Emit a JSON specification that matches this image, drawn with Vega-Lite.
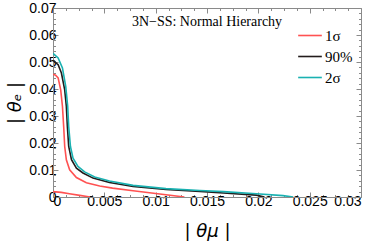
{
  "$schema": "https://vega.github.io/schema/vega-lite/v6.json",
  "width": 308,
  "height": 189,
  "autosize": {"type": "none"},
  "padding": {"left": 53, "top": 8, "right": 13, "bottom": 45},
  "background": "white",
  "config": {
    "view": {"stroke": null},
    "axis": {
      "grid": false,
      "domainColor": "#8a8a8a",
      "domainWidth": 1,
      "tickColor": "#8a8a8a",
      "tickWidth": 1,
      "labelFont": "Liberation Sans",
      "labelFontSize": 14,
      "labelColor": "#000000",
      "labelOverlap": false,
      "titleFont": "DejaVu Sans",
      "titleFontSize": 18,
      "titleFontWeight": "normal",
      "titleFontStyle": "italic",
      "titleColor": "#000000"
    }
  },
  "title": {
    "text": "3N−SS:  Normal Hierarchy",
    "font": "Liberation Serif",
    "fontSize": 14,
    "fontWeight": "normal",
    "color": "#000000",
    "anchor": "middle",
    "baseline": "alphabetic",
    "offset": 0,
    "dy": 39
  },
  "data": {
    "values": [
      {"s": "1σ", "b": "a", "i": 0, "x": 0, "y": 0.0455},
      {"s": "1σ", "b": "a", "i": 1, "x": 0.00025, "y": 0.0451},
      {"s": "1σ", "b": "a", "i": 2, "x": 0.0005, "y": 0.0441},
      {"s": "1σ", "b": "a", "i": 3, "x": 0.00075, "y": 0.0397},
      {"s": "1σ", "b": "a", "i": 4, "x": 0.00092, "y": 0.0336},
      {"s": "1σ", "b": "a", "i": 5, "x": 0.00104, "y": 0.0261},
      {"s": "1σ", "b": "a", "i": 6, "x": 0.00114, "y": 0.0187},
      {"s": "1σ", "b": "a", "i": 7, "x": 0.0013, "y": 0.0138},
      {"s": "1σ", "b": "a", "i": 8, "x": 0.00162, "y": 0.0101},
      {"s": "1σ", "b": "a", "i": 9, "x": 0.00228, "y": 0.0072},
      {"s": "1σ", "b": "a", "i": 10, "x": 0.00325, "y": 0.0053},
      {"s": "1σ", "b": "a", "i": 11, "x": 0.00455, "y": 0.0041},
      {"s": "1σ", "b": "a", "i": 12, "x": 0.0058, "y": 0.0033},
      {"s": "1σ", "b": "a", "i": 13, "x": 0.0078, "y": 0.0023},
      {"s": "1σ", "b": "a", "i": 14, "x": 0.0100, "y": 0.0013},
      {"s": "1σ", "b": "a", "i": 15, "x": 0.0128, "y": 0},
      {"s": "1σ", "b": "c", "i": 0, "x": 0, "y": 0.0020},
      {"s": "1σ", "b": "c", "i": 1, "x": 0.0008, "y": 0.0017},
      {"s": "1σ", "b": "c", "i": 2, "x": 0.0016, "y": 0.0012},
      {"s": "1σ", "b": "c", "i": 3, "x": 0.0026, "y": 0.0006},
      {"s": "1σ", "b": "c", "i": 4, "x": 0.0036, "y": 0},
      {"s": "90%", "b": "a", "i": 0, "x": 0, "y": 0.0506},
      {"s": "90%", "b": "a", "i": 1, "x": 0.0005, "y": 0.0490},
      {"s": "90%", "b": "a", "i": 2, "x": 0.00082, "y": 0.0459},
      {"s": "90%", "b": "a", "i": 3, "x": 0.00114, "y": 0.0397},
      {"s": "90%", "b": "a", "i": 4, "x": 0.0013, "y": 0.0336},
      {"s": "90%", "b": "a", "i": 5, "x": 0.0014, "y": 0.0261},
      {"s": "90%", "b": "a", "i": 6, "x": 0.00153, "y": 0.0187},
      {"s": "90%", "b": "a", "i": 7, "x": 0.0018, "y": 0.0138},
      {"s": "90%", "b": "a", "i": 8, "x": 0.00228, "y": 0.0107},
      {"s": "90%", "b": "a", "i": 9, "x": 0.00292, "y": 0.0089},
      {"s": "90%", "b": "a", "i": 10, "x": 0.0039, "y": 0.0070},
      {"s": "90%", "b": "a", "i": 11, "x": 0.0055, "y": 0.0054},
      {"s": "90%", "b": "a", "i": 12, "x": 0.0078, "y": 0.0039},
      {"s": "90%", "b": "a", "i": 13, "x": 0.011, "y": 0.0028},
      {"s": "90%", "b": "a", "i": 14, "x": 0.0143, "y": 0.0021},
      {"s": "90%", "b": "a", "i": 15, "x": 0.0166, "y": 0.0015},
      {"s": "90%", "b": "a", "i": 16, "x": 0.0198, "y": 0.0007},
      {"s": "90%", "b": "a", "i": 17, "x": 0.0206, "y": 0},
      {"s": "2σ", "b": "a", "i": 0, "x": 0, "y": 0.0532},
      {"s": "2σ", "b": "a", "i": 1, "x": 0.0005, "y": 0.0515},
      {"s": "2σ", "b": "a", "i": 2, "x": 0.00092, "y": 0.0478},
      {"s": "2σ", "b": "a", "i": 3, "x": 0.00124, "y": 0.0410},
      {"s": "2σ", "b": "a", "i": 4, "x": 0.00143, "y": 0.0336},
      {"s": "2σ", "b": "a", "i": 5, "x": 0.00153, "y": 0.0261},
      {"s": "2σ", "b": "a", "i": 6, "x": 0.0017, "y": 0.0187},
      {"s": "2σ", "b": "a", "i": 7, "x": 0.00195, "y": 0.0144},
      {"s": "2σ", "b": "a", "i": 8, "x": 0.00243, "y": 0.0113},
      {"s": "2σ", "b": "a", "i": 9, "x": 0.00308, "y": 0.0093},
      {"s": "2σ", "b": "a", "i": 10, "x": 0.00406, "y": 0.0074},
      {"s": "2σ", "b": "a", "i": 11, "x": 0.0055, "y": 0.0059},
      {"s": "2σ", "b": "a", "i": 12, "x": 0.0078, "y": 0.0043},
      {"s": "2σ", "b": "a", "i": 13, "x": 0.011, "y": 0.0031},
      {"s": "2σ", "b": "a", "i": 14, "x": 0.0143, "y": 0.0024},
      {"s": "2σ", "b": "a", "i": 15, "x": 0.0166, "y": 0.0020},
      {"s": "2σ", "b": "a", "i": 16, "x": 0.0198, "y": 0.0012},
      {"s": "2σ", "b": "a", "i": 17, "x": 0.0224, "y": 0.0005},
      {"s": "2σ", "b": "a", "i": 18, "x": 0.0234, "y": 0}
    ]
  },
  "layer": [
    {
      "mark": {"type": "line", "strokeWidth": 1.6, "clip": true},
      "encoding": {
        "x": {
          "field": "x", "type": "quantitative",
          "scale": {"domain": [0, 0.03], "nice": false, "zero": false},
          "axis": {
            "orient": "bottom",
            "title": "| θμ |",
            "titlePadding": 12,
            "values": [0, 0.00125, 0.0025, 0.00375, 0.005, 0.00625, 0.0075, 0.00875, 0.01, 0.01125, 0.0125, 0.01375, 0.015, 0.01625, 0.0175, 0.01875, 0.02, 0.02125, 0.0225, 0.02375, 0.025, 0.02625, 0.0275, 0.02875, 0.03],
            "labelExpr": "abs(datum.value*200 - round(datum.value*200)) < 0.001 ? format(datum.value, '~g') : ''",
            "tickSize": {"condition": {"test": "abs(datum.value*200 - round(datum.value*200)) < 0.001", "value": -5}, "value": -2.5},
            "labelPadding": 2
          }
        },
        "y": {
          "field": "y", "type": "quantitative",
          "scale": {"domain": [0, 0.07], "nice": false, "zero": false},
          "axis": {
            "orient": "left",
            "title": "| θₑ |",
            "titlePadding": 4,
            "values": [0, 0.002, 0.004, 0.006, 0.008, 0.01, 0.012, 0.014, 0.016, 0.018, 0.02, 0.022, 0.024, 0.026, 0.028, 0.03, 0.032, 0.034, 0.036, 0.038, 0.04, 0.042, 0.044, 0.046, 0.048, 0.05, 0.052, 0.054, 0.056, 0.058, 0.06, 0.062, 0.064, 0.066, 0.068, 0.07],
            "labelExpr": "abs(datum.value*100 - round(datum.value*100)) < 0.001 ? format(datum.value, '~g') : ''",
            "tickSize": {"condition": {"test": "abs(datum.value*100 - round(datum.value*100)) < 0.001", "value": -5}, "value": -2.5},
            "labelPadding": 2
          }
        },
        "color": {
          "field": "s", "type": "nominal",
          "scale": {"domain": ["1σ", "90%", "2σ"], "range": ["#ff5252", "#231c1c", "#1ab1b1"]},
          "legend": {
            "orient": "none",
            "legendX": 244,
            "legendY": 14.5,
            "title": null,
            "symbolType": "stroke",
            "symbolSize": 560,
            "symbolStrokeWidth": 1.6,
            "labelFont": "Liberation Serif",
            "labelFontSize": 15,
            "labelColor": "#000000",
            "labelOffset": 2,
            "rowPadding": -1.5
          }
        },
        "detail": {"field": "b"},
        "order": {"field": "i"}
      }
    },
    {
      "mark": {"type": "point", "opacity": 0},
      "encoding": {
        "x": {
          "field": "x", "type": "quantitative",
          "axis": {
            "orient": "top",
            "title": null,
            "labels": false,
            "values": [0, 0.00125, 0.0025, 0.00375, 0.005, 0.00625, 0.0075, 0.00875, 0.01, 0.01125, 0.0125, 0.01375, 0.015, 0.01625, 0.0175, 0.01875, 0.02, 0.02125, 0.0225, 0.02375, 0.025, 0.02625, 0.0275, 0.02875, 0.03],
            "tickSize": {"condition": {"test": "abs(datum.value*200 - round(datum.value*200)) < 0.001", "value": -5}, "value": -2.5}
          }
        },
        "y": {
          "field": "y", "type": "quantitative",
          "axis": {
            "orient": "right",
            "title": null,
            "labels": false,
            "values": [0, 0.002, 0.004, 0.006, 0.008, 0.01, 0.012, 0.014, 0.016, 0.018, 0.02, 0.022, 0.024, 0.026, 0.028, 0.03, 0.032, 0.034, 0.036, 0.038, 0.04, 0.042, 0.044, 0.046, 0.048, 0.05, 0.052, 0.054, 0.056, 0.058, 0.06, 0.062, 0.064, 0.066, 0.068, 0.07],
            "tickSize": {"condition": {"test": "abs(datum.value*100 - round(datum.value*100)) < 0.001", "value": -5}, "value": -2.5}
          }
        }
      }
    }
  ],
  "resolve": {"axis": {"x": "independent", "y": "independent"}}
}
